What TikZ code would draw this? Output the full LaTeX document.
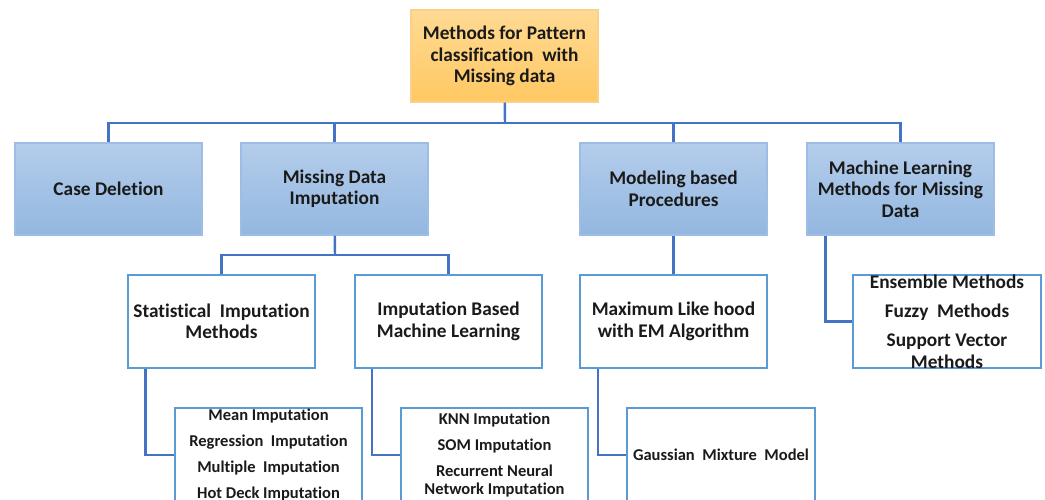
\documentclass[tikz,border=0pt]{standalone}
\usepackage{fontspec}
\setmainfont[Ligatures=NoCommon]{Carlito}

\definecolor{linkblue}{HTML}{4472C4}
\definecolor{boxline}{HTML}{5B9BD5}
\definecolor{bluetop}{HTML}{B4CDEB}
\definecolor{bluebot}{HTML}{93B7E0}
\definecolor{bluedraw}{HTML}{9DBDE4}
\definecolor{orangetop}{HTML}{FFDA93}
\definecolor{orangebot}{HTML}{FFC862}
\definecolor{orangedraw}{HTML}{FAD08A}
\definecolor{ink}{HTML}{1A1A1A}

\newcommand\headfont{\fontsize{11}{12.2}\selectfont\bfseries}
\newcommand\listfont{\fontsize{9.4}{14.8}\selectfont\bfseries}

\tikzset{
  link/.style={draw=linkblue, line width=1.4pt},
  rootbox/.style={draw=orangedraw, line width=0.8pt, top color=orangetop, bottom color=orangebot,
    minimum width=3.74cm, minimum height=1.84cm, align=center, font=\headfont, text=ink},
  headbox/.style={draw=bluedraw, line width=0.8pt, top color=bluetop, bottom color=bluebot,
    minimum width=3.74cm, minimum height=1.84cm, align=center, font=\headfont, text=ink},
  subbox/.style={draw=boxline, line width=1.1pt, fill=white,
    minimum width=3.74cm, minimum height=1.86cm, align=center, font=\headfont, text=ink},
  listbox/.style={subbox, minimum height=1.88cm, font=\listfont},
  listtext/.style={align=center, font=\listfont, text=ink, inner sep=0pt},
  enstext/.style={align=center, font=\fontsize{11}{16.6}\selectfont\bfseries, text=ink, inner sep=0pt}
}

\begin{document}
\begin{tikzpicture}[x=0.02cm,y=-0.02cm]
    \useasboundingbox (0,0) rectangle (1045,500);
    \clip (0,0) rectangle (1045,500);
    % top
    \node[rootbox](root)at(504.5, 56){Methods for Pattern\\classification\ \ with\\Missing data};
    % first level
    \node[headbox](case)at(108.5, 189){Case Deletion};
    \node[headbox](mdi)at(334.5, 189){Missing Data\\Imputation};
    \node[headbox](mbp)at(673.5, 189){Modeling based\\Procedures};
    \node[headbox](mlm)at(900.5, 189){Machine Learning\\Methods for Missing\\Data};
    % second level
    \node[subbox](stat)at(221.5, 321.5){Statistical\ \ Imputation\\Methods};
    \node[subbox](ibml)at(448.5, 321.5){Imputation Based\\Machine Learning};
    \node[subbox](mle)at(673.5, 321.5){Maximum Like hood\\with EM Algorithm};
    \node[subbox,minimum width=3.76cm,label={[enstext]center:{Ensemble Methods\\Fuzzy\ \ Methods\\Support Vector\\[-4.1pt]Methods}}](ens)at(947, 321.5){};
    % third level
    \node[listbox,label={[listtext]center:{Mean Imputation\\Regression\ \ Imputation\\Multiple\ \ Imputation\\Hot Deck Imputation}}](mean)at(268.5, 455){};
    \node[listbox,label={[listtext]center:{KNN Imputation\\SOM Imputation\\Recurrent Neural\\[-4.6pt]Network Imputation}}](knn)at(494.5, 455){};
    \node[listbox](gmm)at(721, 455){Gaussian\ \ Mixture\ \ Model};
    % connectors
    \coordinate(bus)at(505, 123);
    \coordinate(split)at(335, 255);
    \draw[link](root) -- (bus);
    \draw[link](case.north) |- (bus) -| (mlm.north);
    \draw[link](mdi.north) -- (mdi.north |- bus);
    \draw[link](mbp.north) -- (mbp.north |- bus);
    \draw[link](mdi) -- (split);
    \draw[link](stat.north) |- (split) -| (ibml.north);
    \draw[link](mbp) -- (mle);
    \draw[link]([xshift=-42.8pt]mlm.south) |- (ens.west);
    \draw[link]([xshift=10.8pt]stat.south west) |- (mean.west);
    \draw[link]([xshift=10.2pt]ibml.south west) |- (knn.west);
    \draw[link]([xshift=10.8pt]mle.south west) |- (gmm.west);
\end{tikzpicture}
\end{document}
